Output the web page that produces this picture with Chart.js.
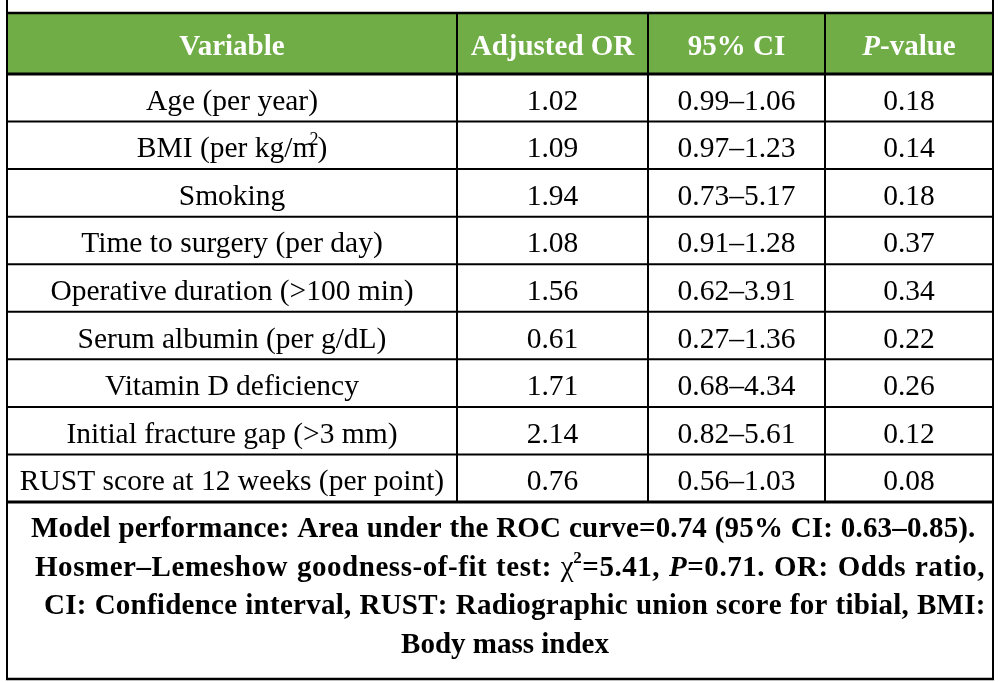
<!DOCTYPE html>
<html>
<head>
<meta charset="utf-8">
<script src="https://cdn.jsdelivr.net/npm/chart.js@4.4.1/dist/chart.umd.min.js"></script>
<style>
  html, body { margin: 0; padding: 0; background: #fff; }
  #wrap { width: 1003px; height: 682px; }
</style>
</head>
<body>
<div id="wrap"><canvas id="tabla"></canvas></div>
<script>
// datos de la tabla
const columnas = ['Variable', 'Adjusted OR', '95% CI', 'P-value'];
const variables = [
  'Age (per year)',
  'BMI (per kg/m2)',
  'Smoking',
  'Time to surgery (per day)',
  'Operative duration (>100 min)',
  'Serum albumin (per g/dL)',
  'Vitamin D deficiency',
  'Initial fracture gap (>3 mm)',
  'RUST score at 12 weeks (per point)'
];
const oddsRatio = [1.02, 1.09, 1.94, 1.08, 1.56, 0.61, 1.71, 2.14, 0.76];
const ciBajo = [0.99, 0.97, 0.73, 0.91, 0.62, 0.27, 0.68, 0.82, 0.56];
const ciAlto = [1.06, 1.23, 5.17, 1.28, 3.91, 1.36, 4.34, 5.61, 1.03];
const valoresP = [0.18, 0.14, 0.18, 0.37, 0.34, 0.22, 0.26, 0.12, 0.08];
const notas = [
  'Model performance: Area under the ROC curve=0.74 (95% CI: 0.63–0.85).',
  'Hosmer–Lemeshow goodness-of-fit test: χ2=5.41, P=0.71. OR: Odds ratio,',
  'CI: Confidence interval, RUST: Radiographic union score for tibial, BMI:',
  'Body mass index'
];

// disposicion (anchos de columna en unidades del eje x)
const bordes = [0, 450, 641, 818, 986];
const altoCabecera = 61;
const altoNotas = 177;
const verde = '#70ad47';
const fuente = '"Liberation Serif", "Times New Roman", serif';
// margenes de cada linea de la nota (justificada), la ultima va centrada
const notaMargen = [[24, 18], [28, 8], [37, 10], null];
const notaDx = 5;

const centros = bordes.slice(0, -1).map((b, j) => (b + bordes[j + 1]) / 2);
const fmt = v => v.toFixed(2);

// convierte texto en trozos con cursiva / superindice
const trozos = (txt) => {
  if (txt === 'P-value') return [{ t: 'P', it: true }, { t: '-value' }];
  if (txt.includes('kg/m2')) return [{ t: 'BMI (per kg/m' }, { t: '2', sup: true, dx: -6 }, { t: ')', dx: -1 }];
  if (txt.includes('χ2')) {
    const [a, b] = txt.split('χ2');
    const [c, d] = b.split('P=');
    return [{ t: a }, { t: 'χ', w: 'normal' }, { t: '2', sup: true, dx: -1 }, { t: c }, { t: 'P', it: true }, { t: '=' + d }];
  }
  return [{ t: txt }];
};

// dibuja centrado en cx, o justificado entre x1 y x2 si se pasa 'just'
// (el sobrante se reparte entre letras, con mas peso en los espacios)
const dibujarTexto = (ctx, txt, cx, base, size, peso, color, just) => {
  const partes = trozos(txt);
  const fontDe = p => `${p.it ? 'italic ' : ''}${p.w || peso} ${p.sup ? Math.round(size * 0.6) : size}px ${fuente}`;
  let total = 0, huecos = 0;
  partes.forEach(p => {
    ctx.font = fontDe(p);
    p.ancho = ctx.measureText(p.t).width;
    total += p.ancho + (p.dx || 0);
    [...p.t].forEach(ch => { huecos += ch === ' ' ? 3 : 1; });
  });
  let x = cx - total / 2, extra = 0;
  if (just) {
    x = just[0];
    extra = (just[1] - just[0] - total) / huecos;
  }
  ctx.fillStyle = color;
  ctx.textAlign = 'left';
  ctx.textBaseline = 'alphabetic';
  partes.forEach(p => {
    x += p.dx || 0;
    ctx.font = fontDe(p);
    const y = p.sup ? base - size * 0.42 : base;
    if (!extra) {
      ctx.fillText(p.t, x, y);
      x += p.ancho;
      return;
    }
    [...p.t].forEach(ch => {
      ctx.fillText(ch, x, y);
      x += ctx.measureText(ch).width + extra * (ch === ' ' ? 3 : 1);
    });
  });
};

const linea = (ctx, x1, y1, x2, y2, w) => {
  ctx.beginPath();
  ctx.lineWidth = w;
  ctx.strokeStyle = '#000';
  ctx.moveTo(x1, y1);
  ctx.lineTo(x2, y2);
  ctx.stroke();
};

const celdas = [
  variables,
  oddsRatio.map(fmt),
  ciBajo.map((v, i) => `${fmt(v)}–${fmt(ciAlto[i])}`),
  valoresP.map(fmt)
];

const pluginTabla = {
  id: 'tabla',
  afterDatasetsDraw(chart) {
    const { ctx } = chart;
    const xs = chart.scales.x, ys = chart.scales.y;
    const izq = xs.getPixelForValue(bordes[0]);
    const der = xs.getPixelForValue(bordes[bordes.length - 1]);
    const paso = (ys.bottom - ys.top) / variables.length;
    const topCab = ys.top - altoCabecera;
    const finNotas = ys.bottom + altoNotas;
    ctx.save();

    // cabecera
    ctx.fillStyle = verde;
    ctx.fillRect(izq, topCab, der - izq, altoCabecera);
    columnas.forEach((c, j) => {
      dibujarTexto(ctx, c, xs.getPixelForValue(centros[j]), topCab + altoCabecera / 2 + 11, 29, 'bold', '#fff');
    });

    // celdas, desde los puntos de cada dataset
    chart.data.datasets.forEach((ds, j) => {
      chart.getDatasetMeta(j).data.forEach((pt, i) => {
        dibujarTexto(ctx, celdas[j][i], pt.x, pt.y + 12, 29.5, 'normal', '#000');
      });
    });

    // notas al pie
    notas.forEach((n, k) => {
      const m = notaMargen[k];
      const base = ys.bottom + 35 + k * 38.5;
      if (m) dibujarTexto(ctx, n, 0, base, 29, 'bold', '#000', [izq + m[0], der - m[1]]);
      else dibujarTexto(ctx, n, (izq + der) / 2 + notaDx, base, 29, 'bold', '#000');
    });

    // lineas
    linea(ctx, izq - 1, topCab, der + 1, topCab, 2.5);
    linea(ctx, izq, ys.top, der, ys.top, 3);
    for (let i = 1; i < variables.length; i++) {
      const y = ys.top + paso * i;
      linea(ctx, izq, y, der, y, 2);
    }
    linea(ctx, izq, ys.bottom, der, ys.bottom, 3);
    linea(ctx, izq - 1, finNotas, der + 1, finNotas, 2.5);
    linea(ctx, izq, 0, izq, finNotas + 1, 2);
    linea(ctx, der, 0, der, finNotas + 1, 2);
    bordes.slice(1, -1).forEach(b => {
      const x = xs.getPixelForValue(b);
      linea(ctx, x, topCab, x, ys.bottom, 2);
    });
    ctx.restore();
  }
};

new Chart(document.querySelector('#tabla'), {
  type: 'scatter',
  data: {
    datasets: columnas.map((c, j) => ({
      label: c,
      data: variables.map(v => ({ x: centros[j], y: v })),
      pointRadius: 0,
      pointHoverRadius: 0
    }))
  },
  options: {
    responsive: true,
    maintainAspectRatio: false,
    animation: false,
    events: [],
    layout: { padding: { left: 7, right: 10, top: 74, bottom: 180 } },
    plugins: { legend: { display: false }, tooltip: { enabled: false } },
    scales: {
      x: { type: 'linear', min: bordes[0], max: bordes[bordes.length - 1], display: false },
      y: { type: 'category', labels: variables, offset: true, display: false }
    }
  },
  plugins: [pluginTabla]
});
</script>
</body>
</html>
